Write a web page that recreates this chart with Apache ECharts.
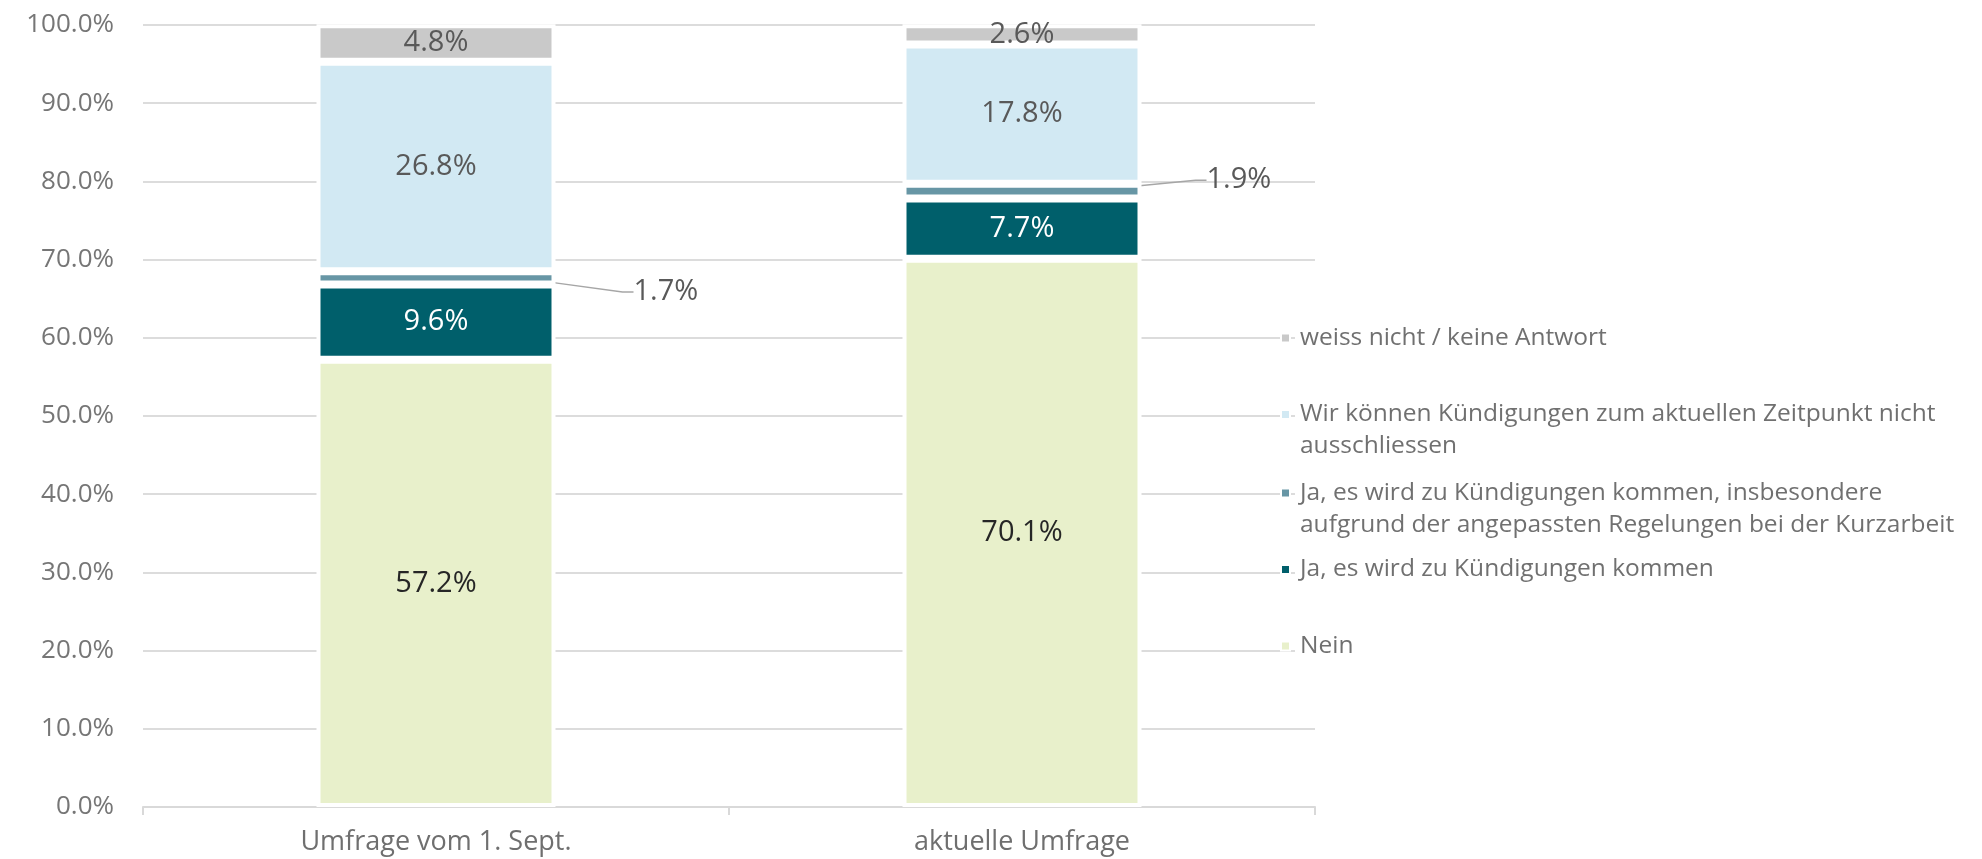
<!DOCTYPE html>
<html>
<head>
<meta charset="utf-8">
<script src="https://cdn.jsdelivr.net/npm/echarts@6/dist/echarts.min.js"></script>
<style>
html,body{margin:0;padding:0;background:#fff;}
#chart{width:1982px;height:859px;}
</style>
</head>
<body>
<div id="chart"></div>
<script>
const categories = ['Umfrage vom 1. Sept.', 'aktuelle Umfrage'];
const nein = [57.2, 70.1];
const jaKuendigungen = [9.6, 7.7];
const jaKurzarbeit = [1.7, 1.9];
const nichtAusschliessen = [26.8, 17.8];
const weissNicht = [4.8, 2.6];
const seriesNames = [
  'Nein',
  'Ja, es wird zu Kündigungen kommen',
  'Ja, es wird zu Kündigungen kommen, insbesondere aufgrund der angepassten Regelungen bei der Kurzarbeit',
  'Wir können Kündigungen zum aktuellen Zeitpunkt nicht ausschliessen',
  'weiss nicht / keine Antwort'
];
const legendText = {
  'Wir können Kündigungen zum aktuellen Zeitpunkt nicht ausschliessen': '\nWir können Kündigungen zum aktuellen Zeitpunkt nicht\nausschliessen',
  'Ja, es wird zu Kündigungen kommen, insbesondere aufgrund der angepassten Regelungen bei der Kurzarbeit': '\nJa, es wird zu Kündigungen kommen, insbesondere\naufgrund der angepassten Regelungen bei der Kurzarbeit'
};
const colors = ['#e8f0cb', '#005f6b', '#6796a5', '#d2e9f3', '#c9c9c9'];
const labelColors = ['#262626', '#ffffff', '#595959', '#595959', '#595959'];
const yTicks = [0, 10, 20, 30, 40, 50, 60, 70, 80, 90, 100];

const FONT = 'Open Sans';
const chart = echarts.init(document.getElementById('chart'));
const fmt = p => p.value.toFixed(1) + '%';

const values = [nein, jaKuendigungen, jaKurzarbeit, nichtAusschliessen, weissNicht];
const series = values.map((arr, i) => {
  const s = {
    name: seriesNames[i],
    type: 'bar',
    stack: 'total',
    data: arr,
    barWidth: 239,
    itemStyle: { color: colors[i], borderColor: '#ffffff', borderWidth: 4 },
    label: {
      show: true,
      position: 'inside',
      formatter: fmt,
      color: labelColors[i],
      fontFamily: FONT,
      fontSize: 29
    }
  };
  if (i === 2) {
    s.label.position = 'right';
    s.label.distance = 0;
    s.label.padding = [0, 0, 0, 11];
    s.labelLine = { show: true, length2: 11, lineStyle: { color: '#a6a6a6', width: 1.5 } };
    s.labelLayout = function (params) {
      return params.dataIndex === 0 ? { dx: 67, dy: 14 } : { dx: 54, dy: -11 };
    };
  }
  return s;
});

const legendCenters = [338, 414.5, 493, 569.5, 646];
const legendOrder = [4, 3, 2, 1, 0];
const LH = 32;
const legends = legendOrder.map((si, k) => {
  const name = seriesNames[si];
  const lines = legendText[name] ? 3 : 1;
  return {
    data: [name],
    orient: 'vertical',
    left: 1280,
    top: legendCenters[k] - lines * LH / 2,
    z: 10 - k,
    padding: 0,
    itemWidth: 9,
    itemHeight: 9,
    icon: 'rect',
    selectedMode: false,
    formatter: n => legendText[n] || n,
    textStyle: {
      fontFamily: FONT,
      fontSize: 24.5,
      lineHeight: LH,
      color: '#707070',
      padding: [0, 0, 0, 5],
      backgroundColor: '#ffffff'
    }
  };
});

chart.setOption({
  animation: false,
  backgroundColor: '#ffffff',
  grid: { left: 143, right: 667, top: 25, bottom: 52 },
  legend: legends,
  xAxis: {
    type: 'category',
    data: categories,
    axisLine: { lineStyle: { color: '#d9d9d9', width: 2 } },
    axisTick: { show: true, alignWithLabel: false, length: 8, lineStyle: { color: '#d9d9d9', width: 2 } },
    axisLabel: { fontFamily: FONT, fontSize: 27, color: '#6f6f6f', margin: 22 }
  },
  yAxis: {
    type: 'value',
    min: yTicks[0],
    max: yTicks[yTicks.length - 1],
    interval: yTicks[1] - yTicks[0],
    axisLine: { show: false },
    axisTick: { show: false },
    splitLine: { lineStyle: { color: '#dcdcdc', width: 2 } },
    axisLabel: { fontFamily: FONT, fontSize: 26, color: '#767676', margin: 29, formatter: v => v.toFixed(1) + '%' }
  },
  series: series
});
</script>
</body>
</html>
